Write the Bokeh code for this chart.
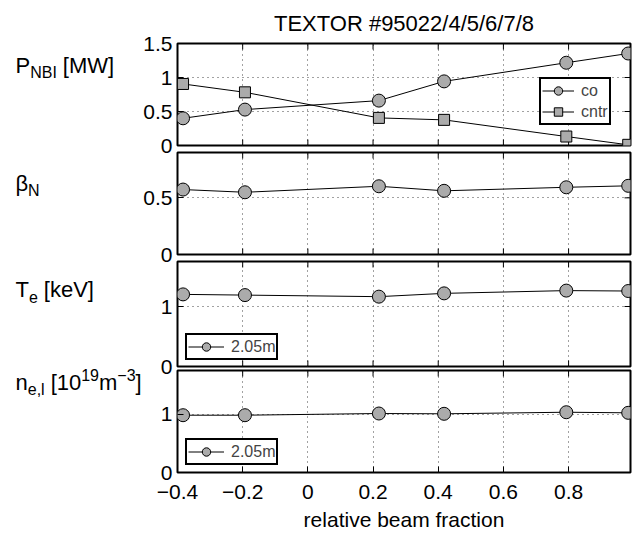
import numpy as np
from bokeh.plotting import figure
from bokeh.layouts import column, row
from bokeh.models import Range1d, FixedTicker, Legend, LegendItem
from bokeh.embed import file_html
from bokeh.resources import INLINE
from bokeh.core.properties import value

FONT = "Liberation Sans"

# ---- data ----
beam_fraction = [-0.383, -0.193, 0.218, 0.418, 0.793, 0.983]
p_co = [0.40, 0.528, 0.66, 0.943, 1.217, 1.353]
p_cntr = [0.905, 0.782, 0.406, 0.377, 0.132, 0.01]
beta_n = [0.573, 0.549, 0.602, 0.562, 0.593, 0.606]
te_kev = [1.202, 1.19, 1.164, 1.219, 1.265, 1.258]
ne_line = [0.983, 0.983, 1.012, 1.007, 1.034, 1.024]

x_limits = (-0.4, 0.99)
x_ticks = [-0.4, -0.2, 0.0, 0.2, 0.4, 0.6, 0.8]
x_tick_labels = ["\u22120.4", "\u22120.2", "0", "0.2", "0.4", "0.6", "0.8"]

p1_ticks = [0.0, 0.5, 1.0, 1.5]
p1_labels = ["0", "0.5", "1", "1.5"]
p2_ticks = [0.0, 0.5]
p2_labels = ["0", "0.5"]
p3_ticks = [0.0, 1.0]
p3_labels = ["0", "1"]
p4_ticks = [0.0, 1.0]
p4_labels = ["0", "1"]

title_text = "TEXTOR #95022/4/5/6/7/8"
x_label = "relative beam fraction"
legend_co = "co"
legend_cntr = "cntr"
legend_pos = "2.05m"

# y-axis label pieces: (text, kind) kind: main / sub / sup
label_p = [("P", "main"), ("NBI", "sub"), ("[MW]", "main")]
label_beta = [("\u03b2", "main"), ("N", "sub")]
label_te = [("T", "main"), ("e", "sub"), ("[keV]", "main")]
label_ne = [("n", "main"), ("e,l", "sub"), ("[10", "main"), ("19", "sup"),
            ("m", "main"), ("\u22123", "sup"), ("]", "main")]

MARKER_FILL = "#ababab"
LABEL_W = 162          # width of the label strip
LABEL_OVERLAP = 24     # strip reaches under the panels' left border
TOTAL_H = 536


def make_panel(y_max, y_ticks, y_labels, frame_h, top, bottom, margin_top, show_x):
    p = figure(frame_width=453, frame_height=frame_h,
               min_border_left=39, min_border_right=6,
               min_border_top=top, min_border_bottom=bottom,
               x_range=Range1d(*x_limits), y_range=Range1d(0, y_max),
               output_backend="svg", toolbar_location=None, tools="")
    p.margin = (margin_top, 0, 0, 0)
    p.border_fill_alpha = 0
    p.background_fill_alpha = 0
    p.outline_line_color = "black"
    p.outline_line_width = 2
    p.outline_line_alpha = 1

    p.yaxis.ticker = FixedTicker(ticks=y_ticks)
    p.yaxis.major_label_overrides = {t: l for t, l in zip(y_ticks, y_labels)}
    p.yaxis.axis_line_color = None
    p.yaxis.major_tick_in = 6
    p.yaxis.major_tick_out = 0
    p.yaxis.minor_tick_line_color = None
    p.yaxis.major_label_standoff = 5
    p.yaxis.major_label_text_font = FONT
    p.yaxis.major_label_text_font_size = "21px"
    p.yaxis.major_label_text_color = "black"

    p.xaxis.ticker = FixedTicker(ticks=x_ticks)
    p.xaxis.major_label_overrides = {t: l for t, l in zip(x_ticks, x_tick_labels)}
    if show_x:
        p.xaxis.axis_line_color = None
        p.xaxis.major_tick_in = 6
        p.xaxis.major_tick_out = 0
        p.xaxis.minor_tick_line_color = None
        p.xaxis.major_label_standoff = 12
        p.xaxis.major_label_text_font = FONT
        p.xaxis.major_label_text_font_size = "21px"
        p.xaxis.major_label_text_color = "black"
        p.xaxis.axis_label = x_label
        p.xaxis.axis_label_text_font = FONT
        p.xaxis.axis_label_text_font_size = "21px"
        p.xaxis.axis_label_text_font_style = "normal"
        p.xaxis.axis_label_text_color = "black"
        p.xaxis.axis_label_standoff = 6
    else:
        p.xaxis.visible = False
        p.scatter(x=x_ticks, y=[0] * len(x_ticks), marker="dash", size=12,
                  angle=np.pi / 2, line_color="black", line_width=1)

    # inward ticks on top and right edges (box on)
    p.scatter(x=x_ticks, y=[y_max] * len(x_ticks), marker="dash", size=12,
              angle=np.pi / 2, line_color="black", line_width=1)
    p.scatter(x=[x_limits[1]] * len(y_ticks), y=y_ticks, marker="dash", size=12,
              line_color="black", line_width=1)

    p.xgrid.ticker = FixedTicker(ticks=x_ticks)
    p.ygrid.ticker = FixedTicker(ticks=y_ticks)
    for g in (p.xgrid, p.ygrid):
        g.grid_line_color = "#444444"
        g.grid_line_dash = "1 4"
        g.grid_line_width = 1
    return p


def style_legend(leg, glyph_w):
    leg.border_line_color = "black"
    leg.border_line_width = 2
    leg.border_line_alpha = 1
    leg.background_fill_color = "white"
    leg.background_fill_alpha = 1
    leg.label_text_font = FONT
    leg.label_text_font_size = "16px"
    leg.glyph_width = glyph_w
    leg.glyph_height = 21
    leg.label_height = 14
    leg.label_standoff = 7
    leg.padding = 1
    leg.spacing = 0
    leg.margin = 0


def series(p, y, marker, size):
    ln = p.line(beam_fraction, y, line_color="black", line_width=1)
    sc = p.scatter(beam_fraction, y, marker=marker, size=size, fill_color=MARKER_FILL,
                   line_color="black", line_width=1)
    return [ln, sc]


# ---- panel 1 : P_NBI ----
p1 = make_panel(1.5, p1_ticks, p1_labels, 102, 43, 10, 0, False)
p1.title.text = title_text
p1.title.align = "center"
p1.title.text_font = FONT
p1.title.text_font_size = "22px"
p1.title.text_font_style = "normal"
p1.title.text_color = "black"
p1.title.standoff = 16
r_co = series(p1, p_co, "circle", 13)
r_cntr = series(p1, p_cntr, "square", 11)
leg1 = Legend(items=[LegendItem(label=legend_co, renderers=r_co),
                     LegendItem(label=legend_cntr, renderers=r_cntr)],
              location=(362, 20))
style_legend(leg1, 32)
p1.add_layout(leg1)

# ---- panel 2 : beta_N ----
p2 = make_panel(0.9, p2_ticks, p2_labels, 102, 10, 10, -13, False)
series(p2, beta_n, "circle", 13)

# ---- panel 3 : T_e ----
p3 = make_panel(1.75, p3_ticks, p3_labels, 105, 10, 10, -13, False)
r_te = series(p3, te_kev, "circle", 13)
leg3 = Legend(items=[LegendItem(label=legend_pos, renderers=r_te)], location=(8, 6))
style_legend(leg3, 36)
p3.add_layout(leg3)

# ---- panel 4 : n_e,l ----
p4 = make_panel(1.75, p4_ticks, p4_labels, 102, 10, 60, -16, True)
r_ne = series(p4, ne_line, "circle", 13)
leg4 = Legend(items=[LegendItem(label=legend_pos, renderers=r_ne)], location=(8, 7))
style_legend(leg4, 36)
p4.add_layout(leg4)

# ---- left strip holding the y-axis labels (with sub/superscripts) ----
lab = figure(width=LABEL_W, height=TOTAL_H, x_range=Range1d(0, LABEL_W),
             y_range=Range1d(TOTAL_H, 0), x_axis_type=None, y_axis_type=None,
             min_border=0, output_backend="svg", toolbar_location=None, tools="")
lab.margin = (0, -LABEL_OVERLAP, 0, 0)
lab.outline_line_color = None
lab.border_fill_alpha = 0
lab.background_fill_alpha = 0
lab.grid.visible = False

SIZES = {"main": 22, "sub": 16, "sup": 16}
WIDTHS = {"P": 0.667, "NBI": 1.667, "[MW]": 2.333, "\u03b2": 0.57, "N": 0.722,
          "T": 0.611, "e": 0.556, "[keV]": 2.112, "n": 0.556, "e,l": 1.056,
          "[10": 1.39, "19": 1.112, "m": 0.833, "\u22123": 1.14, "]": 0.278}


def place(pieces, x0, base):
    xs, ys, ts, ks = [], [], [], []
    x = x0
    prev = None
    for text, kind in pieces:
        if text.startswith("[") and prev is not None:
            x += 6
        dy = {"main": 0, "sub": 7, "sup": -8}[kind]
        xs.append(x)
        ys.append(base + dy)
        ts.append(text)
        ks.append(kind)
        x += WIDTHS[text] * SIZES[kind]
        prev = text
    for kind in ("main", "sub", "sup"):
        sel = [i for i, k in enumerate(ks) if k == kind]
        if not sel:
            continue
        lab.text(x=[xs[i] for i in sel], y=[ys[i] for i in sel], text=[ts[i] for i in sel],
                 text_font=value(FONT), text_font_size=value(f"{SIZES[kind]}px"),
                 text_color="black", text_align="left", text_baseline="alphabetic")


place(label_p, 15, 65)
place(label_beta, 15, 183)
place(label_te, 15, 289)
place(label_ne, 15, 382)

panels = column(p1, p2, p3, p4, spacing=0)
layout = row(lab, panels, spacing=0)
open("out.html", "w").write(file_html(layout, INLINE))
